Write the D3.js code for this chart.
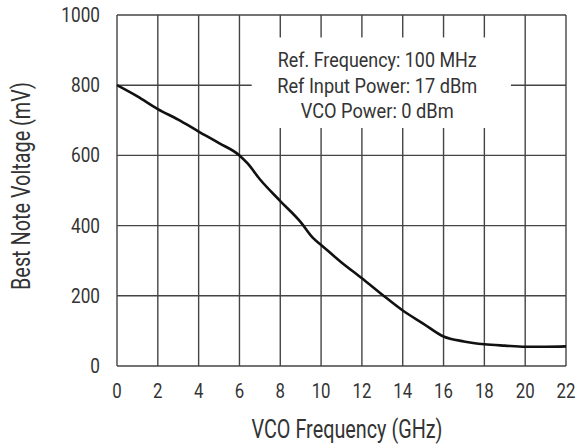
<!DOCTYPE html>
<html>
<head>
<meta charset="utf-8">
<script src="https://cdn.jsdelivr.net/npm/d3@7"></script>
<style>
  body { margin: 0; background: #fff; }
  svg text { font-family: Roboto, "Liberation Sans", sans-serif; fill: #333; }
</style>
</head>
<body>
<div class="container"><svg width="578" height="445"></svg></div>
<script>
// Data
const freqGHz = [0, 1, 2, 3, 4, 5, 6, 6.4, 7, 8, 9, 9.6, 10, 11, 12, 13, 14, 15, 16, 17, 18, 19, 20, 21, 22];
const voltageMV = [800, 768, 732, 702, 668, 635, 600, 577, 532, 470, 410, 365, 345, 295, 250, 203, 158, 121, 84, 70, 62, 58, 55, 55, 56];
const xTicks = [0, 2, 4, 6, 8, 10, 12, 14, 16, 18, 20, 22];
const yTicks = [0, 200, 400, 600, 800, 1000];
const noteLines = ["Ref. Frequency: 100 MHz", "Ref Input Power: 17 dBm", "VCO Power: 0 dBm"];

const MARGIN = { top: 15, right: 12, bottom: 79, left: 117 };
const svg = d3.select(".container").select("svg");
const width = 578 - MARGIN.left - MARGIN.right;
const height = 445 - MARGIN.top - MARGIN.bottom;

const x = d3.scaleLinear().domain([0, 22]).range([0, width]);
const y = d3.scaleLinear().domain([0, 1000]).range([height, 0]);

const g = svg.append("g").attr("transform", `translate(${MARGIN.left},${MARGIN.top})`);

// Grid
g.append("g")
  .selectAll("line")
  .data(xTicks)
  .join("line")
  .attr("x1", (d) => x(d))
  .attr("x2", (d) => x(d))
  .attr("y1", 0)
  .attr("y2", height)
  .attr("stroke", "#444")
  .attr("stroke-width", 1.4);

g.append("g")
  .selectAll("line")
  .data(yTicks)
  .join("line")
  .attr("x1", 0)
  .attr("x2", width)
  .attr("y1", (d) => y(d))
  .attr("y2", (d) => y(d))
  .attr("stroke", "#444")
  .attr("stroke-width", 1.4);

// White box behind the note
g.append("rect")
  .attr("x", x(6.6))
  .attr("y", y(936))
  .attr("width", x(19.3) - x(6.6))
  .attr("height", y(678) - y(936))
  .attr("fill", "#fff");

const noteWidths = [199, 200, 153];
g.append("g")
  .selectAll("text")
  .data(noteLines)
  .join("text")
  .attr("x", x(12.75))
  .attr("y", (d, i) => 52 + i * 25.7)
  .attr("text-anchor", "middle")
  .attr("font-size", 21)
  .attr("textLength", (d, i) => noteWidths[i])
  .attr("lengthAdjust", "spacingAndGlyphs")
  .text((d) => d);

// Curve
const line = d3.line().x((d, i) => x(freqGHz[i])).y((d) => y(d)).curve(d3.curveMonotoneX);
g.append("path")
  .datum(voltageMV)
  .attr("d", line)
  .attr("fill", "none")
  .attr("stroke", "#111")
  .attr("stroke-width", 2.6)
  .attr("stroke-linejoin", "round");

// Tick labels (scaled horizontally for a condensed look)
g.append("g")
  .selectAll("text")
  .data(xTicks)
  .join("text")
  .attr("transform", (d) => `translate(${x(d)},${height + 32}) scale(0.8,1)`)
  .attr("text-anchor", "middle")
  .attr("font-size", 21)
  .text((d) => d);

g.append("g")
  .selectAll("text")
  .data(yTicks)
  .join("text")
  .attr("transform", (d) => `translate(-17,${y(d) + 7}) scale(0.86,1)`)
  .attr("text-anchor", "end")
  .attr("font-size", 20)
  .text((d) => d);

// Axis titles
svg.append("text")
  .attr("x", 347)
  .attr("y", 438)
  .attr("text-anchor", "middle")
  .attr("font-size", 25)
  .attr("textLength", 191)
  .attr("lengthAdjust", "spacingAndGlyphs")
  .text("VCO Frequency (GHz)");

svg.append("text")
  .attr("transform", "translate(30,186) rotate(-90)")
  .attr("text-anchor", "middle")
  .attr("font-size", 25)
  .attr("textLength", 208)
  .attr("lengthAdjust", "spacingAndGlyphs")
  .text("Best Note Voltage (mV)");
</script>
</body>
</html>
